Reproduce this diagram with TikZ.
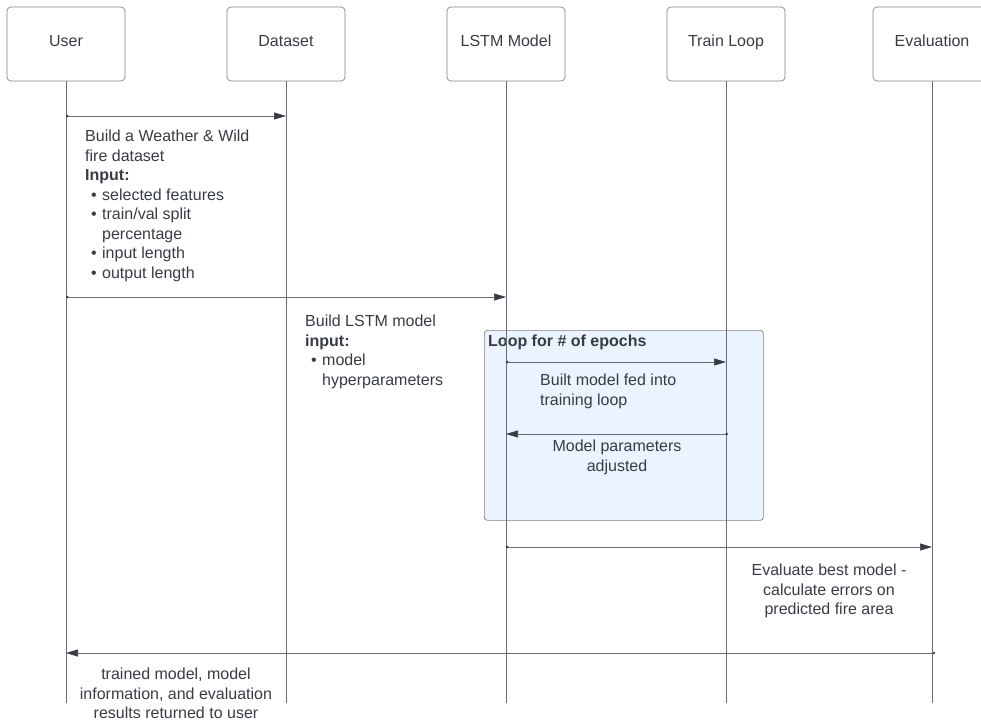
\documentclass[tikz,border=0pt]{standalone}
\usepackage{fontspec}
\setmainfont{Liberation Sans}
\usetikzlibrary{arrows.meta}

\definecolor{linegray}{RGB}{105,110,118}
\definecolor{boxgray}{RGB}{128,130,136}
\definecolor{txtgray}{RGB}{55,60,68}
\definecolor{loopfill}{RGB}{235,243,254}
\definecolor{loopdraw}{RGB}{118,128,142}

\newcommand{\itembul}{\hspace*{6pt}\textbullet\hspace*{5.4pt}}
\newcommand{\itemgap}{\hspace*{17pt}}

\begin{document}
\begin{tikzpicture}[x=1pt,y=-1pt,
        actor/.style={draw=boxgray,line width=0.7pt,rounded corners=4pt,minimum width=118pt,minimum height=74pt,
                      text height=11.5pt,text depth=6pt,text=txtgray,font=\fontsize{16}{19.5}\selectfont},
        life/.style={draw=linegray,line width=0.7pt},
        msg/.style={draw=linegray,line width=0.7pt,{Circle[length=2.5pt,color=txtgray]}-{Triangle[length=12pt,width=7pt,color=txtgray]}},
        note/.style={text=txtgray,inner sep=0pt,font=\fontsize{16}{19.5}\selectfont}]
    \useasboundingbox (0,0) rectangle (981,724);

    % loop frame, behind the lifelines
    \node[draw=loopdraw,fill=loopfill,line width=0.7pt,rounded corners=3pt,anchor=north west,
          minimum width=279pt,minimum height=190pt] (loop) at (484,330) {};
    \node[note,anchor=north west,font=\fontsize{16}{19.5}\selectfont\bfseries] (looptitle) at (488,335) {Loop for \# of epochs};

    % participants
    \node[actor] (user) at (66,44) {User};
    \node[actor] (data) at (286,44) {Dataset};
    \node[actor] (lstm) at (506,44) {LSTM Model};
    \node[actor] (train) at (726,44) {Train Loop};
    \node[actor] (eval) at (932,44) {Evaluation};

    \coordinate (bottom) at (0,703);
    \foreach \a in {user,data,lstm,train,eval}
        {
            \draw[life] (\a.south) -- (\a.south |- bottom);
        }

    % message rows
    \coordinate (m1) at (0,116);
    \coordinate (m2) at (0,297);
    \coordinate (m3) at (0,362);
    \coordinate (m4) at (0,434);
    \coordinate (m5) at (0,547);
    \coordinate (m6) at (0,653);

    \draw[msg] (user |- m1) -- (data |- m1);
    \draw[msg] (user |- m2) -- (lstm |- m2);
    \draw[msg] (lstm |- m3) -- (train |- m3);
    \draw[msg] ([xshift=2pt]train |- m4) -- (lstm |- m4);
    \draw[msg] (lstm |- m5) -- (eval |- m5);
    \draw[msg] ([xshift=3pt]eval |- m6) -- (user |- m6);

    % labels
    \node[note,anchor=north west,align=left] (t1) at (85,130)
        {Build a Weather \& Wild\\fire dataset\\\textbf{Input:}\\\itembul selected features\\\itembul train/val split\\\itemgap percentage\\\itembul input length\\\itembul output length};
    \node[note,anchor=north west,align=left] (t2) at (305,315)
        {Build LSTM model\\\textbf{input:}\\\itembul model\\\itemgap hyperparameters};
    \node[note,anchor=north west,align=left] (t3) at (540,374)
        {Built model fed into\\training loop};
    \node[note,anchor=north,align=center] (t4) at (617,440)
        {Model parameters\\adjusted};
    \node[note,anchor=north,align=center] (t5) at (829,564)
        {Evaluate best model -\\calculate errors on\\predicted fire area};
    \node[note,anchor=north,align=center] (t6) at (176,668)
        {trained model, model\\information, and evaluation\\results returned to user};

\end{tikzpicture}
\end{document}
